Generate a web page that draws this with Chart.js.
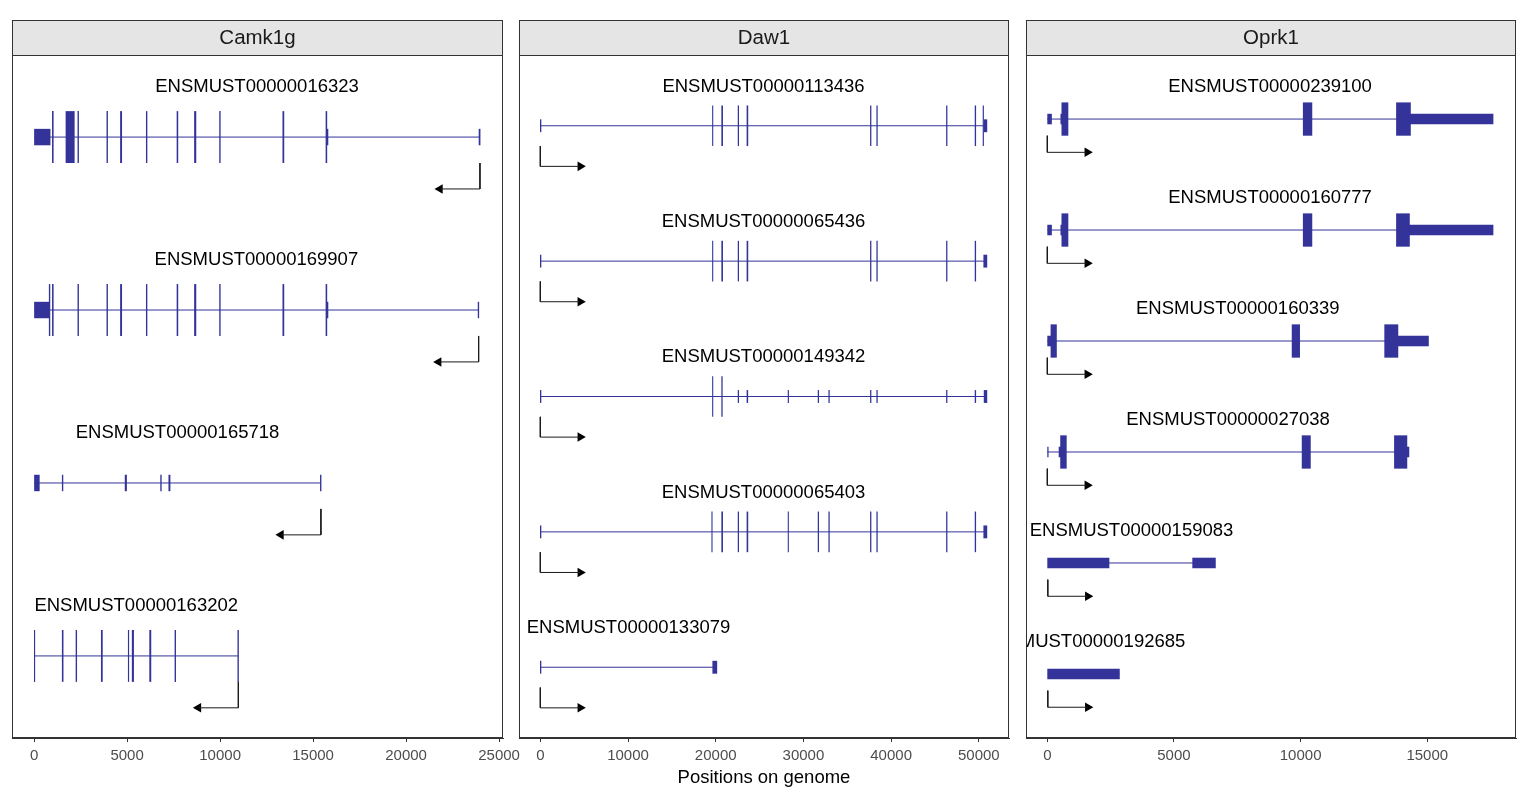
<!DOCTYPE html>
<html><head><meta charset="utf-8">
<script src="https://cdn.jsdelivr.net/npm/chart.js@4.4.1/dist/chart.umd.min.js"></script>
<style>
html,body{margin:0;padding:0;background:#fff;}
#wrap{position:relative;width:1525px;height:792px;overflow:hidden;background:#fff;}
canvas{position:absolute;left:0;top:0;}
</style></head><body>
<div id="wrap">
<canvas id="p1" width="1525" height="792"></canvas>
<canvas id="p2" width="1525" height="792"></canvas>
<canvas id="p3" width="1525" height="792"></canvas>
</div>
<script>
// ---------------- DATA ----------------
// Camk1g (minus strand)
const camk1gTranscripts = ['ENSMUST00000016323','ENSMUST00000169907','ENSMUST00000165718','ENSMUST00000163202'];
const camk1gCds = [
  [[990,1020],[1720,2150],[2360,2380],[3920,3940],[4650,4700],[6040,6060],[7690,7720],[8630,8690],[9980,10000],[13380,13420],[15700,15730]],
  [[820,840],[990,1020],[2360,2380],[3920,3940],[4650,4700],[6040,6060],[7690,7720],[8630,8690],[9980,10000],[13380,13420],[15700,15730]],
  [],
  [[0,20],[1520,1550],[2260,2280],[3620,3660],[5070,5080],[5280,5340],[6220,6270],[7580,7600],[10960,10980]]
];
const camk1gUtr = [
  [[0,850],[15730,15790],[23930,23970]],
  [[0,810],[15730,15790],[23880,23900]],
  [[0,270],[1520,1540],[4900,4960],[6810,6830],[7250,7300],[15400,15420]],
  []
];
const camk1gStrand = -1;
const camk1gArrowLen = 2150;
const camk1gTicks = [0,5000,10000,15000,20000,25000];
const camk1gXRange = [-1190, 25210];
const camk1gYRange = [0.5255, 4.4745];

// Daw1 (plus strand)
const daw1Transcripts = ['ENSMUST00000113436','ENSMUST00000065436','ENSMUST00000149342','ENSMUST00000065403','ENSMUST00000133079'];
const daw1Cds = [
  [[19650,19660],[20700,20770],[22570,22600],[23580,23650],[37660,37690],[38380,38410],[46330,46360],[49590,49630],[50500,50520]],
  [[19650,19660],[20700,20770],[22570,22600],[23580,23650],[37660,37690],[38380,38410],[46330,46360],[49590,49630]],
  [[19650,19660],[20700,20730]],
  [[19570,19580],[20700,20770],[22570,22600],[23580,23650],[28270,28280],[31690,31720],[32910,32940],[37660,37690],[38380,38410],[46330,46360],[49590,49630]],
  []
];
const daw1Utr = [
  [[0,20],[50620,50900]],
  [[0,20],[50580,50900]],
  [[0,20],[22570,22600],[23580,23640],[28270,28290],[31690,31720],[32910,32940],[37660,37690],[38380,38410],[46330,46360],[49590,49630],[50620,50900]],
  [[0,20],[50580,50900]],
  [[0,20],[19680,20110]]
];
const daw1Strand = 1;
const daw1ArrowLen = 4560;
const daw1Ticks = [0,10000,20000,30000,40000,50000];
const daw1XRange = [-2430, 53440];
const daw1YRange = [0.4773, 5.5227];

// Oprk1 (plus strand)
const oprk1Transcripts = ['ENSMUST00000239100','ENSMUST00000160777','ENSMUST00000160339','ENSMUST00000027038','ENSMUST00000159083','ENSMUST00000192685'];
const oprk1Cds = [
  [[580,810],[10110,10440],[13790,14330]],
  [[580,810],[10110,10440],[13790,14290]],
  [[150,355],[9670,9955],[13325,13835]],
  [[530,745],[10065,10380],[13710,14190]],
  [],
  []
];
const oprk1Utr = [
  [[0,160],[540,580],[14330,17590]],
  [[0,160],[540,580],[14290,17590]],
  [[0,150],[13835,15040]],
  [[0,30],[470,530],[14190,14270]],
  [[20,2430],[5745,6630]],
  [[20,2840]]
];
const oprk1Strand = 1;
const oprk1ArrowLen = 1580;
const oprk1Ticks = [0,5000,10000,15000];
const oprk1XRange = [-841, 18503];
const oprk1YRange = [0.4229, 6.5771];

// ---------------- LAYOUT / STYLE ----------------
const FONT = '"Liberation Sans", Arial, Helvetica, sans-serif';
const W = 1525, H = 792;
const STRIP_TOP = 20, PANEL_TOP = 55, AXIS_H = 54;
const EXON_COLOR = '#333399';

function buildPanel(canvasId, geneName, transcripts, cds, utr, strand, arrowLen, ticks, xRange, yRange, panelX, showTitle) {
  const n = transcripts.length;
  const rowOf = i => n - i;
  const spans = transcripts.map((t, i) => {
    const all = cds[i].concat(utr[i]);
    return [Math.min(...all.map(e => e[0])), Math.max(...all.map(e => e[1]))];
  });
  const plotH = H - PANEL_TOP - AXIS_H;
  const rowPx = plotH / (yRange[1] - yRange[0]);

  const cdsData = [], utrData = [];
  cds.forEach((list, i) => list.forEach(e => cdsData.push({x: [e[0], e[1]], y: rowOf(i)})));
  utr.forEach((list, i) => list.forEach(e => utrData.push({x: [e[0], e[1]], y: rowOf(i)})));

  const intronData = [];
  spans.forEach((s, i) => {
    intronData.push({x: s[0], y: rowOf(i)}, {x: s[1], y: rowOf(i)}, {x: null, y: null});
  });
  const arrowLine = [], arrowHead = [];
  spans.forEach((s, i) => {
    const tss = strand > 0 ? s[0] : s[1];
    const r = rowOf(i);
    arrowLine.push({x: tss, y: r - 0.15}, {x: tss, y: r - 0.30}, {x: tss + strand * arrowLen, y: r - 0.30}, {x: null, y: null});
    arrowHead.push({x: tss + strand * arrowLen, y: r - 0.30});
  });

  const decoPlugin = {
    id: 'deco_' + canvasId,
    afterDraw(chart) {
      const {ctx, chartArea: a} = chart;
      ctx.save();
      ctx.fillStyle = '#E5E5E5';
      ctx.fillRect(a.left, STRIP_TOP, a.right - a.left, PANEL_TOP - STRIP_TOP);
      ctx.strokeStyle = '#333333';
      ctx.lineWidth = 1;
      ctx.strokeRect(a.left + 0.5, STRIP_TOP + 0.5, a.right - a.left - 1, PANEL_TOP - STRIP_TOP);
      ctx.strokeRect(a.left + 0.5, a.top + 0.5, a.right - a.left - 1, a.bottom - a.top - 1);
      ctx.fillStyle = '#1A1A1A';
      ctx.font = '20.5px ' + FONT;
      ctx.textAlign = 'center';
      ctx.textBaseline = 'middle';
      ctx.fillText(geneName, (a.left + a.right) / 2, (STRIP_TOP + PANEL_TOP) / 2 + 1);
      ctx.restore();
    }
  };
  const labelPlugin = {
    id: 'labels_' + canvasId,
    afterDatasetsDraw(chart) {
      const {ctx, chartArea: a, scales: {x, y}} = chart;
      ctx.save();
      ctx.beginPath();
      ctx.rect(a.left, a.top, a.right - a.left, a.bottom - a.top);
      ctx.clip();
      ctx.font = '18.5px ' + FONT;
      ctx.fillStyle = '#000';
      ctx.textAlign = 'center';
      ctx.textBaseline = 'middle';
      transcripts.forEach((t, i) => {
        ctx.fillText(t, x.getPixelForValue((spans[i][0] + spans[i][1]) / 2), y.getPixelForValue(rowOf(i) + 0.29));
      });
      ctx.restore();
    }
  };

  return new Chart(document.getElementById(canvasId), {
    type: 'bar',
    data: {
      datasets: [
        {type: 'bar', indexAxis: 'y', data: cdsData, backgroundColor: EXON_COLOR, borderWidth: 0,
         barThickness: rowPx * 0.30 - 1, grouped: false, inflateAmount: 0.5},
        {type: 'bar', indexAxis: 'y', data: utrData, backgroundColor: EXON_COLOR, borderWidth: 0,
         barThickness: rowPx * 0.095 - 1, grouped: false, inflateAmount: 0.5},
        {type: 'line', data: intronData, borderColor: EXON_COLOR, borderWidth: 1, pointRadius: 0, spanGaps: false, tension: 0},
        {type: 'line', data: arrowLine, borderColor: '#1a1a1a', borderWidth: 1, pointRadius: 0, spanGaps: false, tension: 0},
        {type: 'line', data: arrowHead, showLine: false, pointStyle: 'triangle', pointRadius: 5.5,
         pointRotation: strand > 0 ? 90 : -90, pointBackgroundColor: '#000', pointBorderColor: '#000', pointBorderWidth: 0}
      ]
    },
    options: {
      responsive: false,
      animation: false,
      devicePixelRatio: 1,
      events: [],
      layout: {padding: {left: panelX[0], right: W - panelX[1], top: PANEL_TOP, bottom: 0}},
      plugins: {legend: {display: false}, tooltip: {enabled: false}},
      scales: {
        x: {
          type: 'linear', min: xRange[0], max: xRange[1], offset: false,
          afterBuildTicks: s => { s.ticks = ticks.map(v => ({value: v})); },
          afterFit: s => { s.height = AXIS_H; },
          grid: {drawOnChartArea: false, drawTicks: true, tickLength: 4, color: '#333333', offset: false},
          border: {display: true, color: '#333333', width: 1},
          ticks: {color: '#4D4D4D', font: {family: FONT, size: 15}, padding: 5, autoSkip: false, maxRotation: 0,
                  callback: v => String(v)},
          title: {display: showTitle, text: 'Positions on genome', color: '#000',
                  font: {family: FONT, size: 18.5}, padding: {top: 0, bottom: 3}}
        },
        y: {type: 'linear', min: yRange[0], max: yRange[1], display: false, offset: false, grid: {offset: false}}
      }
    },
    plugins: [decoPlugin, labelPlugin]
  });
}

buildPanel('p1', 'Camk1g', camk1gTranscripts, camk1gCds, camk1gUtr, camk1gStrand, camk1gArrowLen, camk1gTicks, camk1gXRange, camk1gYRange, [12, 503], false);
buildPanel('p2', 'Daw1', daw1Transcripts, daw1Cds, daw1Utr, daw1Strand, daw1ArrowLen, daw1Ticks, daw1XRange, daw1YRange, [519, 1009], true);
buildPanel('p3', 'Oprk1', oprk1Transcripts, oprk1Cds, oprk1Utr, oprk1Strand, oprk1ArrowLen, oprk1Ticks, oprk1XRange, oprk1YRange, [1026, 1516], false);
</script>
</body></html>
